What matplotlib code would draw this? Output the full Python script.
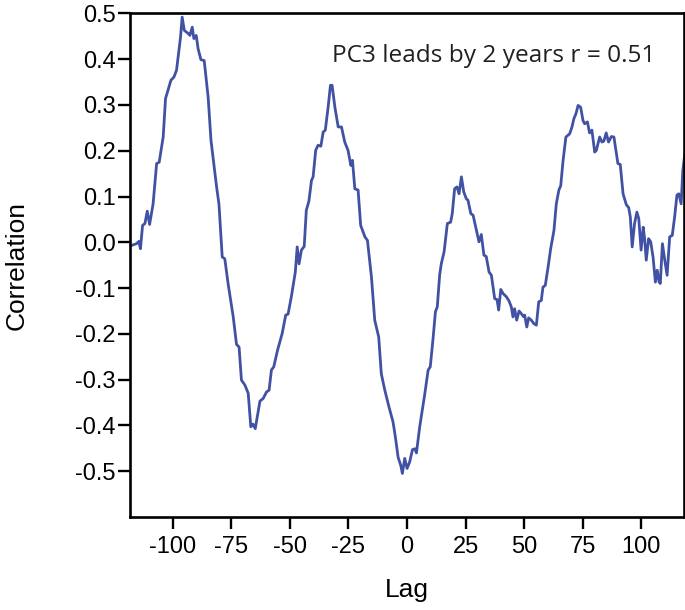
import matplotlib
matplotlib.use("Agg")
import matplotlib.pyplot as plt

# lag / correlation
lags = [-117.7, -115.5, -114.5, -113.8, -112.9, -111.9, -110.9, -109.9, -108.4, -106.9,
        -105.8, -104.1, -103.1, -102.3, -100.8, -99.5, -98.4, -97.4, -96.7, -96.0,
        -95.1, -93.4, -92.7, -91.7, -91.0, -90.0, -89.2, -88.0, -86.6, -84.9,
        -83.7, -81.3, -80.3, -78.9, -77.8, -76.4, -74.2, -72.8, -71.7, -70.7,
        -69.2, -67.8, -66.7, -65.8, -64.8, -62.8, -61.4, -60.0, -58.9, -57.9,
        -56.9, -55.3, -53.3, -51.8, -50.8, -49.4, -47.7, -46.9, -46.1, -45.1,
        -43.9, -43.0, -41.9, -40.8, -40.1, -39.0, -38.0, -36.8, -35.8, -34.9,
        -33.7, -32.7, -32.0, -30.8, -29.4, -28.0, -26.6, -25.2, -24.0, -23.3,
        -22.3, -20.9, -19.8, -18.0, -16.9, -15.2, -13.8, -12.1, -11.0, -9.5,
        -7.7, -6.0, -5.0, -3.8, -2.7, -2.0, -1.0, 0.0, 1.1, 2.3,
        3.3, 4.0, 5.4, 7.6, 9.0, 9.9, 11.1, 12.1, 12.9, 13.9,
        14.6, 15.8, 17.2, 18.6, 19.3, 20.3, 21.3, 22.2, 23.2, 24.2,
        25.3, 26.0, 27.2, 28.2, 29.3, 30.7, 31.7, 32.8, 33.8, 35.0,
        36.0, 37.4, 38.4, 39.1, 40.0, 41.0, 42.4, 43.5, 44.5, 45.2,
        45.9, 46.8, 47.8, 48.8, 49.6, 50.2, 51.1, 51.9, 53.0, 54.2,
        55.2, 56.2, 57.3, 58.0, 59.0, 60.2, 61.3, 62.7, 63.7, 64.8,
        65.6, 66.6, 67.8, 69.4, 70.4, 71.2, 72.1, 73.0, 74.1, 75.1,
        75.8, 77.0, 77.9, 78.9, 80.1, 80.8, 82.2, 83.2, 84.0, 85.0,
        86.0, 87.2, 88.3, 90.0, 91.0, 92.2, 93.6, 94.6, 95.3, 96.1,
        97.1, 98.1, 98.9, 99.9, 100.8, 101.4, 102.1, 103.1, 104.0, 105.0,
        106.0, 106.8, 107.6, 108.1, 109.0, 110.0, 111.0, 112.1, 113.2, 114.2,
        115.2, 116.0, 117.0, 117.7, 118.5]
corr = [-0.007, -0.003, 0.002, -0.014, 0.037, 0.041, 0.068, 0.039, 0.084, 0.172,
        0.175, 0.230, 0.314, 0.328, 0.354, 0.361, 0.376, 0.419, 0.448, 0.492,
        0.463, 0.456, 0.452, 0.470, 0.445, 0.452, 0.423, 0.399, 0.397, 0.317,
        0.223, 0.121, 0.084, -0.032, -0.036, -0.090, -0.163, -0.223, -0.229, -0.301,
        -0.312, -0.330, -0.403, -0.397, -0.407, -0.347, -0.341, -0.327, -0.323, -0.279,
        -0.272, -0.236, -0.199, -0.159, -0.157, -0.119, -0.065, -0.010, -0.047, -0.017,
        -0.009, 0.070, 0.090, 0.135, 0.143, 0.201, 0.212, 0.210, 0.241, 0.245,
        0.295, 0.343, 0.343, 0.295, 0.252, 0.252, 0.219, 0.201, 0.168, 0.179,
        0.117, 0.114, 0.037, 0.012, 0.004, -0.076, -0.170, -0.207, -0.287, -0.323,
        -0.360, -0.392, -0.425, -0.470, -0.487, -0.505, -0.472, -0.494, -0.480, -0.453,
        -0.451, -0.460, -0.403, -0.330, -0.279, -0.272, -0.210, -0.152, -0.141, -0.072,
        -0.047, -0.021, 0.041, 0.044, 0.063, 0.117, 0.121, 0.106, 0.143, 0.110,
        0.095, 0.092, 0.063, 0.059, 0.033, 0.001, 0.017, -0.028, -0.031, -0.065,
        -0.072, -0.123, -0.125, -0.148, -0.103, -0.112, -0.119, -0.128, -0.141, -0.163,
        -0.145, -0.170, -0.150, -0.156, -0.162, -0.159, -0.185, -0.165, -0.170, -0.178,
        -0.181, -0.130, -0.127, -0.098, -0.094, -0.054, -0.014, 0.026, 0.084, 0.114,
        0.124, 0.179, 0.230, 0.237, 0.252, 0.270, 0.281, 0.299, 0.295, 0.266,
        0.259, 0.263, 0.239, 0.245, 0.197, 0.201, 0.230, 0.219, 0.221, 0.239,
        0.219, 0.231, 0.230, 0.172, 0.170, 0.106, 0.082, 0.076, 0.055, -0.010,
        0.041, 0.066, 0.052, -0.017, 0.033, 0.008, -0.039, 0.008, 0.001, -0.032,
        -0.087, -0.061, -0.087, -0.090, -0.003, -0.039, -0.072, 0.012, 0.015, 0.055,
        0.103, 0.106, 0.084, 0.157, 0.19]

xticks = [-100, -75, -50, -25, 0, 25, 50, 75, 100]
yticks = [0.5, 0.4, 0.3, 0.2, 0.1, 0.0, -0.1, -0.2, -0.3, -0.4, -0.5]
note = "PC3 leads by 2 years r = 0.51"

plt.rcParams['font.family'] = ['Liberation Sans', 'DejaVu Sans']

fig = plt.figure(figsize=(6.85, 6.1), dpi=100)
ax = fig.add_axes([0.19, 0.1525, 0.8085, 0.8255])

ax.plot(lags, corr, color='#4152a4', lw=2.0, solid_joinstyle='round')

ax.set_xlim(-118.2, 118.2)
ax.set_ylim(-0.6, 0.5)
ax.set_xticks(xticks)
ax.set_xticklabels([str(t) for t in xticks])
ax.set_yticks(yticks)
ax.set_yticklabels([f"{t:.1f}" for t in yticks])

for s in ax.spines.values():
    s.set_linewidth(1.9)
ax.tick_params(length=8.5, width=1.7, labelsize=17, colors='black')
ax.tick_params(axis='y', pad=2)
ax.tick_params(axis='x', pad=5)

ax.set_xlabel("Lag", fontsize=19)
ax.set_ylabel("Correlation", fontsize=19)
ax.xaxis.set_label_coords(0.5, -0.121)
ax.yaxis.set_label_coords(-0.184, 0.5)

ax.text(0.9477, 0.9035, note, transform=ax.transAxes, ha='right', va='baseline',
        fontsize=17.6, color='#231f20', family=['Open Sans', 'DejaVu Sans'])

fig.savefig("out.png", dpi=100)
